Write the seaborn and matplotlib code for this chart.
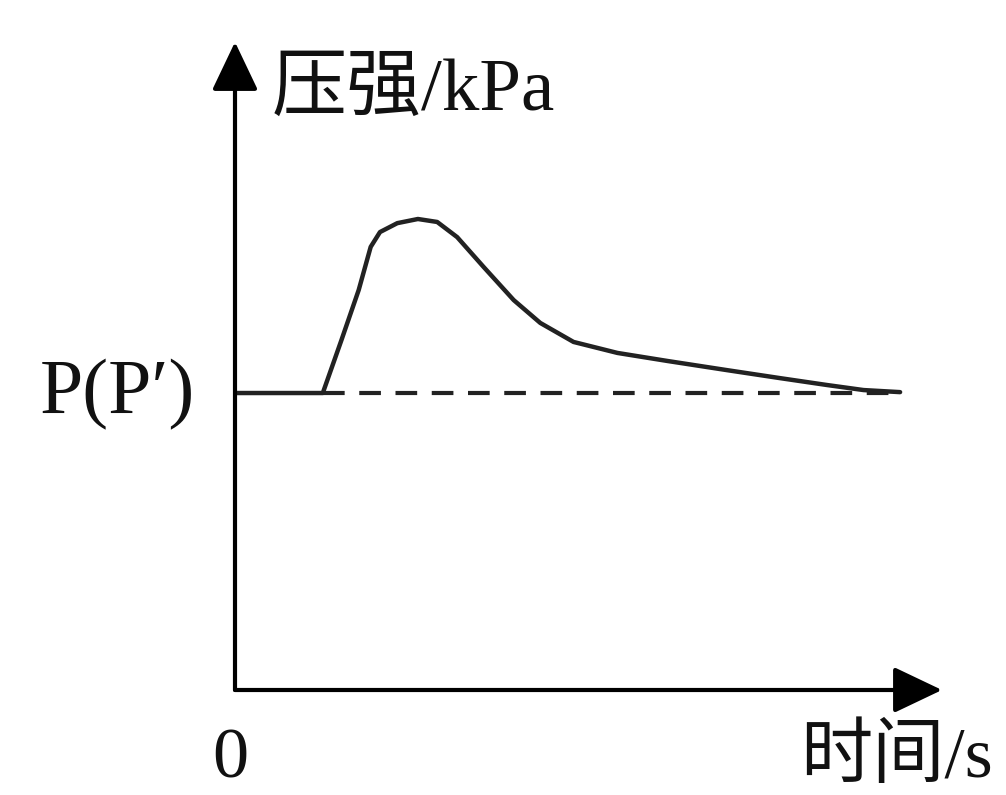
import matplotlib
matplotlib.use('Agg')
import matplotlib.pyplot as plt
import seaborn as sns

##############
#### DATA ####
##############

# time (s) and pressure (kPa) (baseline P = 100)
time = [0, 13.2, 16.0, 18.6, 20.4, 21.8, 24.4, 27.5, 30.4, 33.4, 37.4,
        41.9, 45.9, 50.9, 57.5, 65.0, 74.0, 82.0, 89.0, 94.5, 100.0]
pressure = [100, 100, 117.8, 134.7, 149.2, 154.2, 157.2, 158.6, 157.6, 152.5, 142.4,
            131.3, 123.6, 117.2, 113.5, 110.8, 107.7, 105.0, 102.7, 101.0, 100.3]

# initial pressure reference (dashed)
base_time = [13.2, 100.0]
base_pressure = [100, 100]

x_max = 106.3
y_max = 218.2

y_label = '压强/kPa'
x_label = '时间/s'
p_label = 'P(P′)'
origin_label = '0'

###############
#### STYLE ####
###############

sns.set_style('white')
plt.rcParams['font.family'] = ['Liberation Serif', 'Noto Sans CJK SC', 'DejaVu Sans']

W, H = 1006, 795
fig = plt.figure(figsize=(W / 100, H / 100), dpi=100)
ax = fig.add_axes([235 / W, 105 / H, 707 / W, 648 / H])
ax.set_xlim(0, x_max)
ax.set_ylim(0, y_max)
ax.set_axis_off()

##############
#### PLOT ####
##############

sns.lineplot(x=time, y=pressure, color='#222222', linewidth=3.2, sort=False, ax=ax)
sns.lineplot(x=base_time, y=base_pressure, color='#222222', linewidth=3, ax=ax,
             linestyle=(0, (5.2, 3.5)))

# axes with arrow heads
arrow = dict(arrowstyle='-|>,head_length=0.42,head_width=0.2', color='black',
             lw=3, shrinkA=0, shrinkB=0, mutation_scale=72)
ax.annotate('', xy=(1, 0), xytext=(0, 0), xycoords='axes fraction', arrowprops=arrow)
ax.annotate('', xy=(0, 1), xytext=(0, 0), xycoords='axes fraction', arrowprops=arrow)

###############
#### TEXTS ####
###############

def fig_text(px, py, s, **kw):
    fig.text(px / W, 1 - py / H, s, color='#111111', **kw)

fig_text(272, 110, y_label, fontsize=54, va='baseline', ha='left')
fig_text(800, 777, x_label, fontsize=52, va='baseline', ha='left')
fig_text(40, 413, p_label, fontsize=56, va='baseline', ha='left')
fig_text(230, 777, origin_label, fontsize=52, va='baseline', ha='center')

plt.savefig('out.png', dpi=100)
plt.close()
